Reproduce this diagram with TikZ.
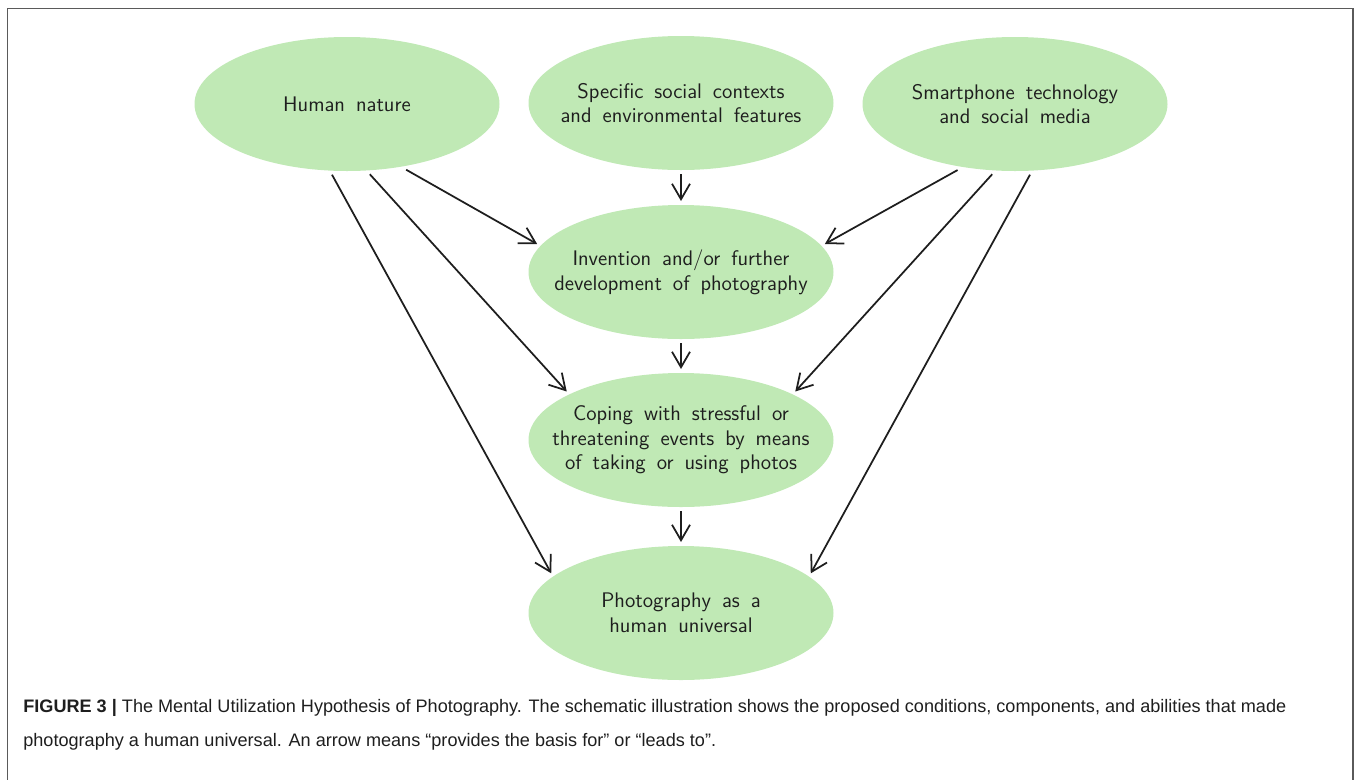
\documentclass[tikz,border=0pt]{standalone}
\usepackage{fontspec}
\usepackage{tikz}
\usetikzlibrary{arrows.meta,positioning,shapes.geometric}
\newfontfamily\capfont{Liberation Sans}
\definecolor{Leaf}{HTML}{C0E9B5}
\definecolor{Ink}{HTML}{1E1E1E}
\definecolor{Frame}{HTML}{5A5A5A}

\begin{document}
\begin{tikzpicture}[
    blob/.style={ellipse,fill=Leaf,minimum width=6.1cm,minimum height=2.68cm,
      inner xsep=-1.4cm,inner ysep=-0.6cm,outer sep=0.08cm,align=center,text=Ink,
      font={\sffamily\large\spaceskip=.52em\relax}},
    arr/.style={-{Straight Barb[length=3.1mm,width=3.6mm]},line width=1pt,Ink}
  ]
    \useasboundingbox (0,0) rectangle (27.16,-15.58);
    \draw[Frame,line width=0.8pt] (0.15,-16) -- (0.15,-0.17) -- (27.06,-0.17) -- (27.06,-16);

    \node[blob] (hum) at (6.94,-2.08) {Human nature};
    \node[blob] (soc) at (13.62,-2.06) {Specific social contexts\\and environmental features};
    \node[blob] (sma) at (20.30,-2.08) {Smartphone technology\\and social media};
    \node[blob] (inv) at (13.62,-5.44) {Invention and/or further\\development of photography};
    \node[blob] (cop) at (13.62,-8.80) {Coping with stressful or\\threatening events by means\\of taking or using photos};
    \node[blob] (pho) at (13.62,-12.26) {Photography as a\\human universal};

    \draw[arr] (soc)--(inv);
    \draw[arr] (inv)--(cop);
    \draw[arr] (cop)--(pho);
    \draw[arr] (hum.-48)--(inv.169);
    \draw[arr] (hum.-72)--(cop.157);
    \draw[arr] (hum.-102)--(pho.163);
    \draw[arr] (sma.-131)--(inv.11);
    \draw[arr] (sma.-108)--(cop.23);
    \draw[arr] (sma.-78)--(pho.17);

    \node[anchor=base west,align=left,inner sep=0pt,text=Ink,
      font={\capfont\fontsize{10.3pt}{19.3pt}\selectfont}] (cap) at (0.46,-14.92)
      {{\bfseries FIGURE 3 |} The Mental Utilization Hypothesis of Photography. The schematic illustration shows the proposed conditions, components, and abilities that made\\
      photography a human universal. An arrow means “provides the basis for” or “leads to”.};
  \end{tikzpicture}
\end{document}
